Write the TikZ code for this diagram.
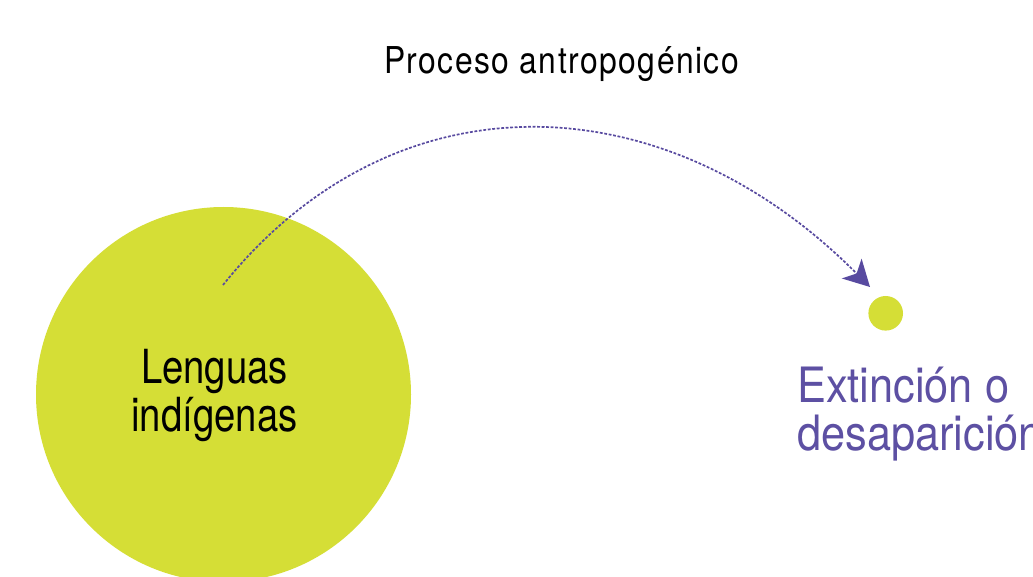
\documentclass[tikz,border=0pt]{standalone}
\usepackage{fontspec}
\setmainfont{TeX Gyre Heros}
\newfontfamily\condfont[FakeStretch=0.815]{TeX Gyre Heros}
\newfontfamily\extfont[FakeStretch=0.89]{TeX Gyre Heros}
\newfontfamily\procfont[FakeStretch=0.86,LetterSpace=4]{TeX Gyre Heros}
\usetikzlibrary{arrows.meta}
\definecolor{lime}{RGB}{213,222,54}
\definecolor{violet}{RGB}{88,74,160}
\definecolor{violettext}{RGB}{93,80,163}
\tikzset{
  blob/.style={circle, fill=lime, draw=none, inner sep=0pt},
  blacktext/.style={inner sep=0pt, anchor=base, text=black},
  purpletext/.style={inner sep=0pt, anchor=base west, text=violettext},
  flow/.style={draw=violet, line width=1.7pt, dash pattern=on 2.8pt off 1.7pt,
    -{Stealth[length=26pt, width=28pt, inset=7pt, fill=violet, line width=0pt]}}
}
\begin{document}
\begin{tikzpicture}[x=1pt, y=1pt]
\clip (0,0) rectangle (1033,576);
\fill[white] (0,0) rectangle (1033,576);
\node[blob, minimum size=375pt] (lenguas) at (223.5,181.5) {};
\node[blob, minimum size=34.6pt] (dot) at (885.7,262.7) {};
\node[blacktext] (l1) at (214.5,193) {\condfont\fontsize{47}{48}\selectfont Lenguas};
\node[blacktext] (l2) at (214.5,145) {\condfont\fontsize{47}{48}\selectfont indígenas};
\node[purpletext] (e1) at (797,173) {\extfont\fontsize{48.7}{48}\selectfont Extinción o};
\node[purpletext] (e2) at (797,126) {\extfont\fontsize{48.7}{48}\selectfont desaparición};
\node[blacktext] (proc) at (561.5,502) {\procfont\fontsize{37}{40}\selectfont Proceso antropogénico};
\coordinate (start) at (223,291);
\coordinate (tip) at (870,289);
\draw[flow] (start) .. controls (395,505) and (665,495) .. (tip);
\end{tikzpicture}
\end{document}
